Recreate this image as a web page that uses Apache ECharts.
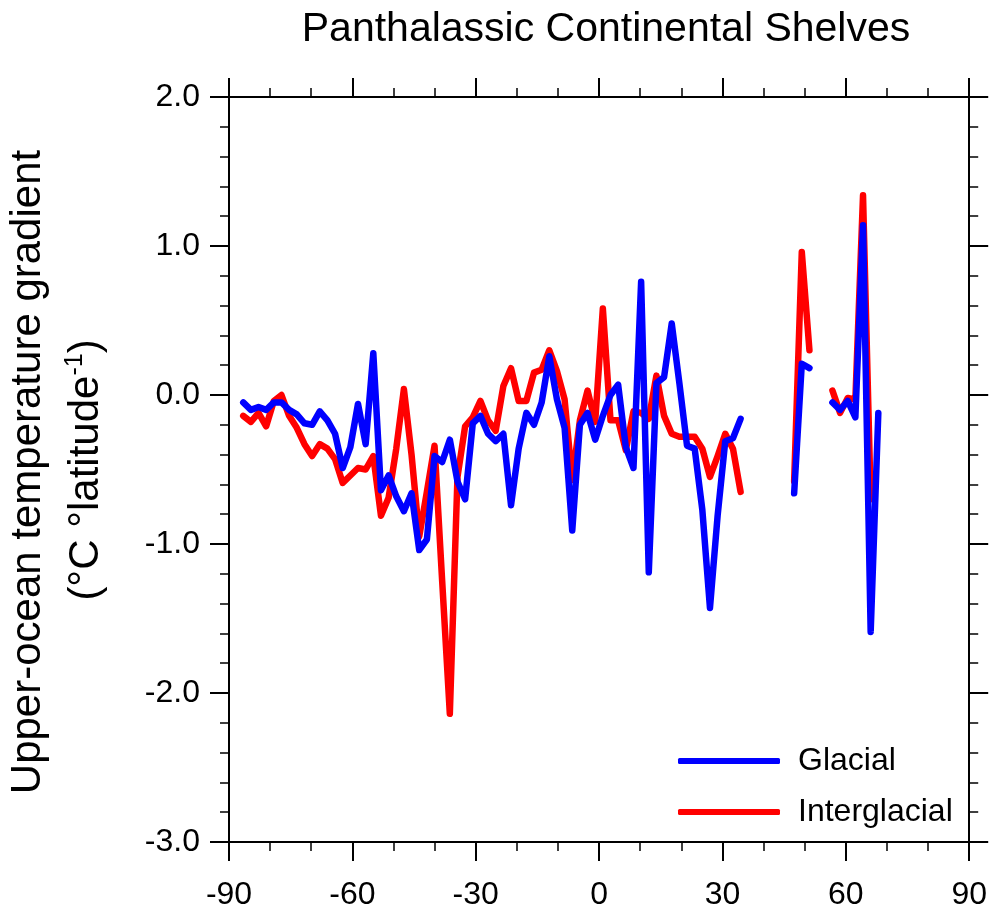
<!DOCTYPE html>
<html>
<head>
<meta charset="utf-8">
<script src="https://cdn.jsdelivr.net/npm/echarts@6/dist/echarts.min.js"></script>
<style>
html,body{margin:0;padding:0;background:#fff;}
#chart{width:990px;height:918px;}
</style>
</head>
<body>
<div id="chart"></div>
<script>
// Latitude of each data point (degrees)
const lats = [-86.54,-84.68,-82.82,-80.96,-79.10,-77.24,-75.38,-73.52,-71.65,-69.79,
  -67.93,-66.07,-64.21,-62.35,-60.49,-58.63,-56.77,-54.91,-53.05,-51.19,
  -49.33,-47.47,-45.61,-43.74,-41.88,-40.02,-38.16,-36.30,-34.44,-32.58,
  -30.72,-28.86,-27.00,-25.14,-23.28,-21.42,-19.56,-17.69,-15.83,-13.97,
  -12.11,-10.25,-8.39,-6.53,-4.67,-2.81,-0.95,0.91,2.77,4.63,
  6.50,8.36,10.22,12.08,13.94,15.80,17.66,19.52,21.38,23.24,
  25.10,26.96,28.82,30.68,32.55,34.41,36.27,38.13,39.99,41.85,
  43.71,45.57,47.43,49.29,51.15,53.01,54.87,56.74,58.60,60.46,
  62.32,64.18,66.04,67.90];

const glacial = [-0.05,-0.10,-0.08,-0.10,-0.05,-0.05,-0.10,-0.13,-0.19,-0.20,
  -0.11,-0.17,-0.26,-0.49,-0.35,-0.06,-0.33,0.28,-0.64,-0.54,
  -0.68,-0.78,-0.66,-1.04,-0.97,-0.41,-0.45,-0.30,-0.58,-0.70,
  -0.19,-0.14,-0.26,-0.31,-0.26,-0.74,-0.36,-0.12,-0.20,-0.05,
  0.26,-0.03,-0.22,-0.91,-0.20,-0.12,-0.30,-0.14,0.00,0.07,
  -0.35,-0.49,0.76,-1.19,0.08,0.12,0.48,0.08,-0.34,-0.36,
  -0.77,-1.43,-0.81,-0.31,-0.29,-0.16,null,null,null,null,
  null,null,-0.66,0.21,0.18,null,null,-0.05,-0.10,-0.04,
  -0.15,1.14,-1.59,-0.12];

const interglacial = [-0.14,-0.18,-0.12,-0.21,-0.04,0.00,-0.14,-0.22,-0.33,-0.41,
  -0.33,-0.36,-0.43,-0.59,-0.54,-0.49,-0.50,-0.41,-0.81,-0.69,
  -0.36,0.04,-0.40,-0.95,-0.65,-0.34,-1.25,-2.14,-0.55,-0.21,
  -0.15,-0.04,-0.17,-0.24,0.06,0.18,-0.04,-0.04,0.15,0.17,
  0.30,0.16,-0.03,-0.57,-0.17,0.03,-0.18,0.58,-0.17,-0.17,
  -0.37,-0.11,-0.12,-0.16,0.13,-0.14,-0.26,-0.28,-0.28,-0.28,
  -0.36,-0.55,-0.41,-0.26,-0.36,-0.65,null,null,null,null,
  null,null,-0.58,0.96,0.30,null,null,0.03,-0.12,-0.02,
  -0.03,1.34,-0.70,null];

const seriesNames = ['Glacial', 'Interglacial'];
const titleText = 'Panthalassic Continental Shelves';
const yTitle1 = 'Upper-ocean temperature gradient';

const FONT = '"Liberation Sans", Arial, Helvetica, sans-serif';
const toPairs = (vals) => lats.map((la, i) => [la, vals[i] === null ? '-' : vals[i]]);

const chart = echarts.init(document.getElementById('chart'), null, {renderer: 'canvas'});

function axisCommon(split) {
  return {
    axisLine: {show: true, onZero: false, lineStyle: {color: '#000', width: 2}},
    axisTick: {show: true, inside: false, length: 19, lineStyle: {color: '#000', width: 2}},
    minorTick: {show: true, splitNumber: split, length: 9, lineStyle: {color: '#000', width: 1.5}},
    splitLine: {show: false},
    minorSplitLine: {show: false}
  };
}

const option = {
  animation: false,
  backgroundColor: '#fff',
  title: {
    text: titleText,
    left: 601,
    textAlign: 'center',
    top: 4,
    textStyle: {fontFamily: FONT, fontSize: 41, fontWeight: 'normal', color: '#000'}
  },
  grid: {left: 229, right: 17, top: 97, bottom: 76, containLabel: false},
  legend: {
    data: seriesNames,
    orient: 'vertical',
    left: 678,
    top: 741,
    padding: 0,
    itemWidth: 102,
    itemHeight: 6,
    itemGap: 11,
    icon: 'roundRect',
    textStyle: {fontFamily: FONT, fontSize: 32, color: '#000', lineHeight: 40, padding: [0, 0, 0, 13]}
  },
  xAxis: [
    Object.assign({
      type: 'value', position: 'bottom', min: -90, max: 90, interval: 30,
      axisLabel: {show: true, margin: 37, fontFamily: FONT, fontSize: 32, color: '#000'}
    }, axisCommon(3)),
    Object.assign({
      type: 'value', position: 'top', min: -90, max: 90, interval: 30,
      axisLabel: {show: false}
    }, axisCommon(3))
  ],
  yAxis: [
    Object.assign({
      type: 'value', position: 'left', min: -3, max: 2, interval: 1,
      axisLabel: {show: true, margin: 29, fontFamily: FONT, fontSize: 32, color: '#000',
        formatter: (v) => v.toFixed(1)}
    }, axisCommon(5)),
    Object.assign({
      type: 'value', position: 'right', min: -3, max: 2, interval: 1,
      axisLabel: {show: false}
    }, axisCommon(5))
  ],
  graphic: [
    {
      type: 'text', x: 28, y: 472, rotation: Math.PI / 2,
      style: {text: yTitle1, font: '42px ' + FONT, fill: '#000', align: 'center', verticalAlign: 'middle'}
    },
    {
      type: 'text', x: 86, y: 470, rotation: Math.PI / 2,
      style: {
        text: '{a|(°C °latitude}{s|-1}{a|)}',
        fill: '#000', align: 'center', verticalAlign: 'middle',
        rich: {
          a: {fontFamily: FONT, fontSize: 42, lineHeight: 46, fill: '#000', verticalAlign: 'middle'},
          s: {fontFamily: FONT, fontSize: 25, lineHeight: 25, fill: '#000', verticalAlign: 'top'}
        }
      }
    }
  ],
  series: [
    {
      name: seriesNames[1], type: 'line', xAxisIndex: 0, yAxisIndex: 0,
      data: toPairs(interglacial), symbol: 'none', showSymbol: false, connectNulls: false,
      itemStyle: {color: '#ff0000'},
      lineStyle: {color: '#ff0000', width: 6.5, cap: 'round', join: 'round'},
      z: 2
    },
    {
      name: seriesNames[0], type: 'line', xAxisIndex: 0, yAxisIndex: 0,
      data: toPairs(glacial), symbol: 'none', showSymbol: false, connectNulls: false,
      itemStyle: {color: '#0000ff'},
      lineStyle: {color: '#0000ff', width: 6.5, cap: 'round', join: 'round'},
      z: 3
    }
  ]
};
chart.setOption(option);
</script>
</body>
</html>
